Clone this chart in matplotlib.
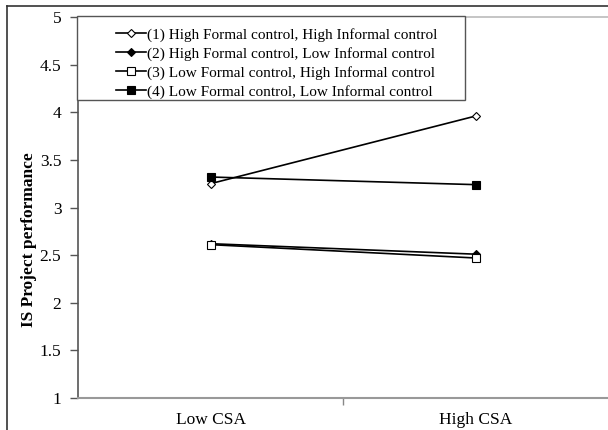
import matplotlib.pyplot as plt
from matplotlib.lines import Line2D
from matplotlib.patches import Rectangle

plt.rcParams['font.family'] = ['Liberation Serif', 'DejaVu Serif']

categories = ["Low CSA", "High CSA"]
labels = [
    "(1) High Formal control, High Informal control",
    "(2) High Formal control, Low Informal control",
    "(3) Low Formal control, High Informal control",
    "(4) Low Formal control, Low Informal control",
]
hf_hi = [3.25, 3.96]
hf_li = [2.62, 2.51]
lf_hi = [2.61, 2.47]
lf_li = [3.32, 3.24]
series = [hf_hi, hf_li, lf_hi, lf_li]

markers = ["D", "D", "s", "s"]
faces = ["white", "black", "white", "black"]
sizes = [4.5, 4.5, 5.5, 5.5]

W, H = 608, 430
fig = plt.figure(figsize=(6.08, 4.30), dpi=100)
ax = fig.add_axes([78 / W, 1 - 398 / H, (W - 78) / W, (398 - 17) / H])

x = [1, 2]
handles = []
for vals, m, fc, ms, lab in zip(series, markers, faces, sizes, labels):
    ln, = ax.plot(x, vals, color="black", lw=1.2, marker=m, markersize=ms,
                  markerfacecolor=fc, markeredgecolor="black", markeredgewidth=0.8,
                  label=lab)
    handles.append(ln)

ax.set_xlim(0.5, 2.5)
ax.set_ylim(1, 5)
ax.set_yticks([1, 1.5, 2, 2.5, 3, 3.5, 4, 4.5, 5])
ax.set_yticklabels(["1", "1.5", "2", "2.5", "3", "3.5", "4", "4.5", "5"], fontsize=12.5)
ax.set_xticks([1.5])
ax.set_xticklabels([""])
ax.tick_params(axis="x", length=5, width=1, color="#888888", direction="out")
ax.tick_params(axis="y", length=6, width=1, color="#555555", pad=6)

for i, c in enumerate(categories):
    ax.text(x[i], -0.058, c, transform=ax.get_xaxis_transform(), ha="center",
            va="center", fontsize=12.5)

ax.set_ylabel("IS Project performance", fontsize=12.5, fontweight="bold")
ax.yaxis.set_label_coords(-0.077, 0.415)

ax.spines["left"].set_color("#555555")
ax.spines["left"].set_linewidth(1.2)
ax.spines["bottom"].set_color("#999999")
ax.spines["bottom"].set_linewidth(1.5)
ax.spines["top"].set_color("#bbbbbb")
ax.spines["top"].set_linewidth(1.2)
ax.spines["right"].set_visible(False)

# legend box
fig.patches.append(Rectangle((77 / W, 1 - 100 / H), (465 - 77) / W, (100 - 16) / H,
                             transform=fig.transFigure, fill=True, facecolor="white",
                             edgecolor="#555555", lw=1.0, zorder=3))
leg = fig.legend(handles=handles, loc="upper left", bbox_to_anchor=(105 / W, 1 - 17 / H),
                 frameon=False, fontsize=11, handlelength=2.0, handletextpad=0.05,
                 labelspacing=0.33, borderpad=0.2)
leg.set_zorder(4)

# outer chart frame
fig.add_artist(Line2D([7 / W, 1], [1 - 6 / H, 1 - 6 / H], color="#333333", lw=1.2,
                      transform=fig.transFigure))
fig.add_artist(Line2D([7 / W, 7 / W], [0, 1 - 6 / H], color="#333333", lw=1.2,
                      transform=fig.transFigure))

fig.savefig("out.png", dpi=100)
